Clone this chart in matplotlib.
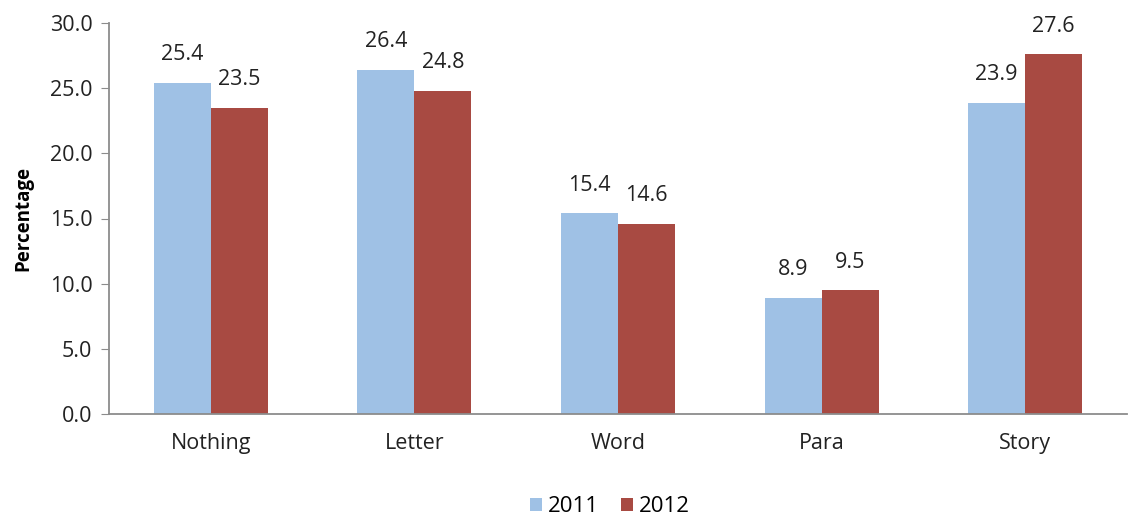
import numpy as np
import matplotlib.pyplot as plt

plt.rcParams['font.family'] = ['Open Sans', 'DejaVu Sans']

categories = ['Nothing', 'Letter', 'Word', 'Para', 'Story']
vals_2011 = [25.4, 26.4, 15.4, 8.9, 23.9]
vals_2012 = [23.5, 24.8, 14.6, 9.5, 27.6]
yticks = [0, 5, 10, 15, 20, 25, 30]

c_2011 = '#9FC1E5'
c_2012 = '#A84A42'

fig = plt.figure(figsize=(11.29, 5.2), dpi=100)
ax = fig.add_axes([109 / 1129, 106 / 520, 1018 / 1129, 391 / 520])

x = np.arange(len(categories))
w = 0.28
b1 = ax.bar(x - w / 2, vals_2011, w, color=c_2011, label='2011')
b2 = ax.bar(x + w / 2, vals_2012, w, color=c_2012, label='2012')

for bars in (b1, b2):
    for r in bars:
        ax.text(r.get_x() + r.get_width() / 2, r.get_height() + 1.35, f'{r.get_height():.1f}',
                ha='center', va='bottom', fontsize=15.5, color='#222222')

ax.set_xlim(-0.5, len(categories) - 0.5)
ax.set_ylim(0, 30)
ax.set_yticks(yticks)
ax.set_yticklabels([f'{v:.1f}' for v in yticks])
ax.set_xticks(x)
ax.set_xticklabels(categories)
ax.tick_params(axis='y', labelsize=15.5, colors='#222222', length=6, color='#8c8c8c', pad=6)
ax.tick_params(axis='x', labelsize=15.5, colors='#222222', length=0, pad=14)
for s in ('top', 'right'):
    ax.spines[s].set_visible(False)
for s in ('left', 'bottom'):
    ax.spines[s].set_color('#8c8c8c')
    ax.spines[s].set_linewidth(1.3)

ax.set_ylabel('Percentage', fontsize=13.5, fontweight='bold', labelpad=12)

fig.legend(handles=[b1, b2], loc='center', bbox_to_anchor=(610 / 1129, 1 - 507 / 520),
           ncol=2, frameon=False, fontsize=16, handlelength=0.55, handleheight=0.55,
           handletextpad=0.25, columnspacing=1.0)

plt.savefig('out.png', dpi=100)
